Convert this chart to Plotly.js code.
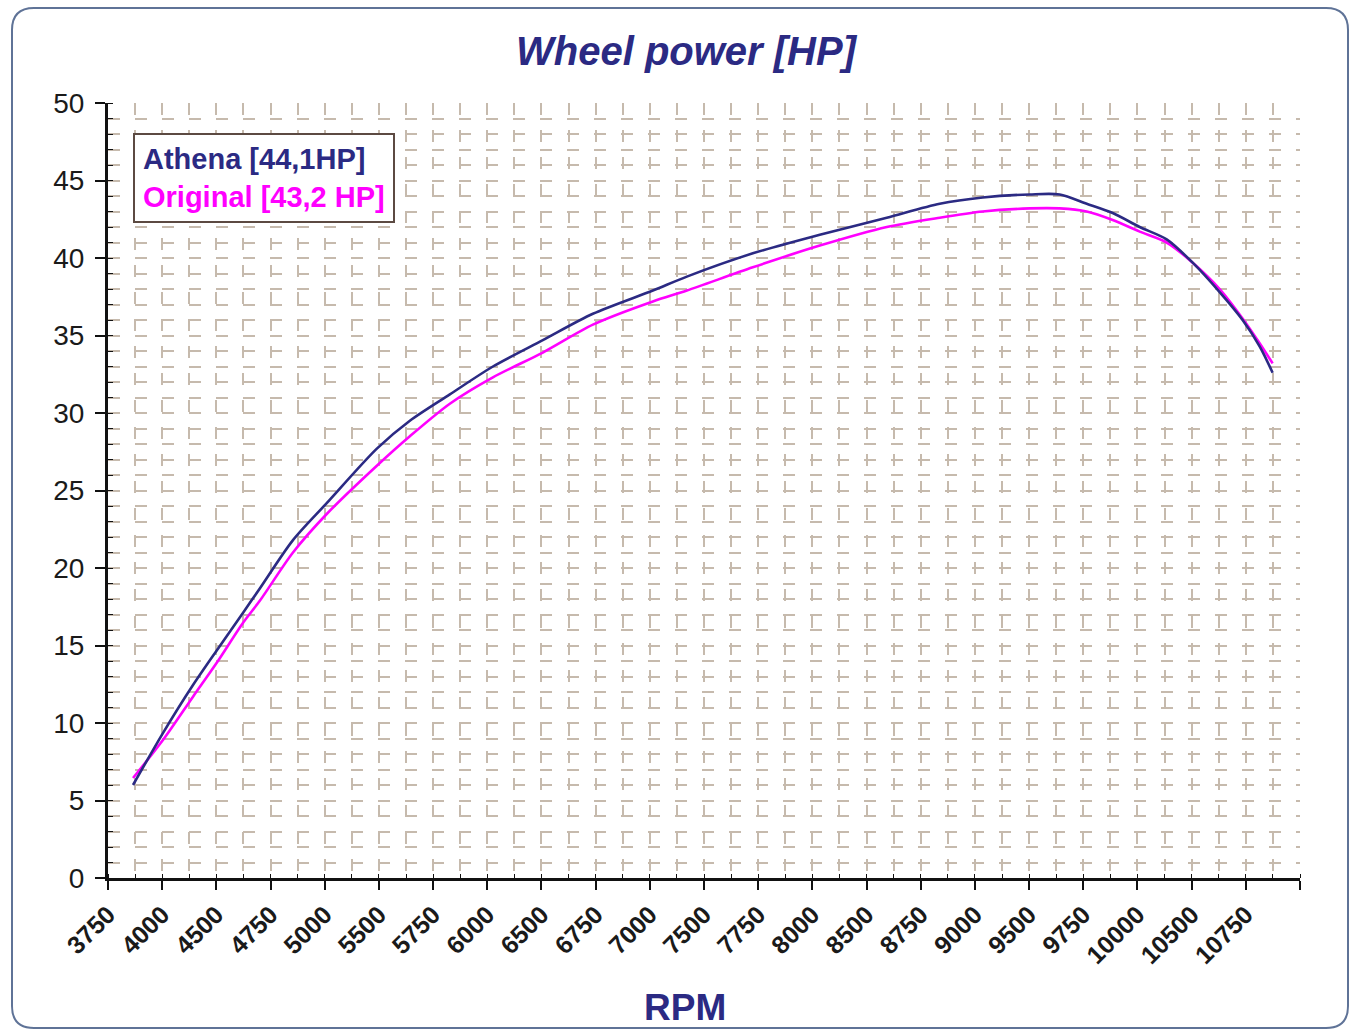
<!DOCTYPE html>
<html>
<head>
<meta charset="utf-8">
<script src="https://cdn.plot.ly/plotly-3.0.1.min.js"></script>
<style>
  html, body { margin: 0; padding: 0; background: #ffffff; }
  #chart { width: 1355px; height: 1031px; }
</style>
</head>
<body>
<div id="chart"></div>
<script>
// ---- data ----
const rpm = [3904, 4088, 4273, 4420, 4580, 4685, 4888, 5097, 5404, 5607, 5853, 6118, 6425, 6733, 7102, 7311, 7717, 8129, 8541, 8867, 9131, 9420, 9605, 9771, 9931, 10097, 10263, 10423, 10589, 10730, 10835, 10915];
const athenaHP = [6.0, 9.35, 12.45, 14.7, 17.1, 18.7, 21.8, 24.2, 27.7, 29.5, 31.2, 33.0, 34.7, 36.4, 37.9, 38.8, 40.3, 41.5, 42.6, 43.5, 43.9, 44.1, 44.1, 43.5, 42.9, 42.0, 41.2, 39.7, 37.8, 36.0, 34.3, 32.6];
const originalHP = [6.45, 8.9, 11.7, 13.9, 16.45, 17.9, 21.0, 23.5, 26.6, 28.5, 30.6, 32.3, 33.9, 35.7, 37.2, 37.9, 39.4, 40.8, 42.0, 42.6, 43.0, 43.2, 43.2, 43.0, 42.45, 41.7, 41.0, 39.7, 38.0, 36.1, 34.5, 33.2];
const xTickLabels = ['3750','4000','4500','4750','5000','5500','5750','6000','6500','6750','7000','7500','7750','8000','8500','8750','9000','9500','9750','10000','10500','10750'];
const seriesNames = ['Athena [44,1HP]', 'Original [43,2 HP]'];
const titleText = 'Wheel power [HP]';
const xTitleText = 'RPM';

// ---- axis tick positions (category axis spacing) ----
const x0 = 3750, step = 1000 / 3;
const tickvals = [];
const ticktext = [];
for (let i = 0; i <= xTickLabels.length; i++) {
  tickvals.push(x0 + i * step);
  ticktext.push(i < xTickLabels.length ? xTickLabels[i] : '');
}
const xMax = tickvals[tickvals.length - 1];

const navy = '#2B2A83';
const magenta = '#FF00FF';
const gridCol = '#C6BAAD';
const fontFam = 'Arial, "Liberation Sans", sans-serif';

const traces = [
  { x: rpm, y: originalHP, name: seriesNames[1], mode: 'lines',
    line: { color: magenta, width: 2.6, shape: 'spline', smoothing: 0.8 }, showlegend: false },
  { x: rpm, y: athenaHP, name: seriesNames[0], mode: 'lines',
    line: { color: navy, width: 2.6, shape: 'spline', smoothing: 0.8 }, showlegend: false }
];

// rounded frame in paper coordinates
const plotW = 1355 - 108 - 55, plotH = 1031 - 103 - 153;
function px2paperX(px) { return (px - 108) / plotW; }
function px2paperY(py) { return (878 - py) / plotH; }
const fx0 = px2paperX(12), fx1 = px2paperX(1348), fy1 = px2paperY(8), fy0 = px2paperY(1028);
const rx = 22 / plotW, ry = 22 / plotH;
const framePath = `M ${fx0+rx},${fy1} L ${fx1-rx},${fy1} Q ${fx1},${fy1} ${fx1},${fy1-ry} L ${fx1},${fy0+ry} Q ${fx1},${fy0} ${fx1-rx},${fy0} L ${fx0+rx},${fy0} Q ${fx0},${fy0} ${fx0},${fy0+ry} L ${fx0},${fy1-ry} Q ${fx0},${fy1} ${fx0+rx},${fy1} Z`;

const layout = {
  width: 1355, height: 1031,
  margin: { l: 108, r: 55, t: 103, b: 153 },
  paper_bgcolor: '#ffffff',
  plot_bgcolor: '#ffffff',
  font: { family: fontFam, color: '#1a1a1a' },
  title: {
    text: titleText,
    font: { family: fontFam, size: 40, color: navy, weight: 'bold', style: 'italic' },
    xref: 'paper', x: px2paperX(686), xanchor: 'center',
    yref: 'container', y: 1 - 51 / 1031, yanchor: 'middle'
  },
  xaxis: {
    range: [x0, xMax],
    tickmode: 'array', tickvals: tickvals, ticktext: ticktext,
    tickangle: -45,
    tickfont: { family: fontFam, size: 25, color: '#1a1a1a', weight: 'bold' },
    ticks: 'outside', ticklen: 9, tickwidth: 2, tickcolor: '#111',
    showline: true, linecolor: '#111', linewidth: 3,
    showgrid: true, gridcolor: gridCol, gridwidth: 1.6, griddash: '12px,15px',
    zeroline: false,
    minor: { tick0: x0, dtick: step / 2, showgrid: true, gridcolor: gridCol, gridwidth: 1.6, griddash: '12px,15px',
             ticks: 'inside', ticklen: 4, tickcolor: '#111', tickwidth: 1 }
  },
  yaxis: {
    range: [0, 50], dtick: 5, tick0: 0,
    tickfont: { family: fontFam, size: 28, color: '#1a1a1a' },
    ticks: 'outside', ticklen: 10, tickwidth: 2, tickcolor: '#111',
    ticklabelstandoff: 5,
    showline: true, linecolor: '#111', linewidth: 3,
    showgrid: true, gridcolor: gridCol, gridwidth: 1.6, griddash: '12px,15px',
    zeroline: false,
    minor: { dtick: 1, showgrid: true, gridcolor: gridCol, gridwidth: 1.6, griddash: '12px,15px',
             ticks: 'inside', ticklen: 5, tickcolor: '#111', tickwidth: 1 }
  },
  annotations: [
    {
      xref: 'paper', yref: 'paper',
      x: px2paperX(133), y: px2paperY(133), xanchor: 'left', yanchor: 'top',
      align: 'left',
      text: `<span style="color:${navy}">${seriesNames[0]}</span><br><span style="color:${magenta}">${seriesNames[1]}</span>`,
      font: { family: fontFam, size: 29, weight: 'bold' },
      showarrow: false, bgcolor: '#ffffff', bordercolor: '#5C4A42', borderwidth: 2, borderpad: 8
    },
    {
      xref: 'paper', yref: 'paper',
      x: px2paperX(685), y: px2paperY(1007), xanchor: 'center', yanchor: 'middle',
      text: xTitleText, showarrow: false,
      font: { family: fontFam, size: 37, color: navy, weight: 'bold' }
    }
  ],
  shapes: [
    { type: 'path', xref: 'paper', yref: 'paper', path: framePath,
      line: { color: '#5F7397', width: 2 }, layer: 'above' }
  ]
};

Plotly.newPlot('chart', traces, layout, { displayModeBar: false, responsive: false });
</script>
</body>
</html>
